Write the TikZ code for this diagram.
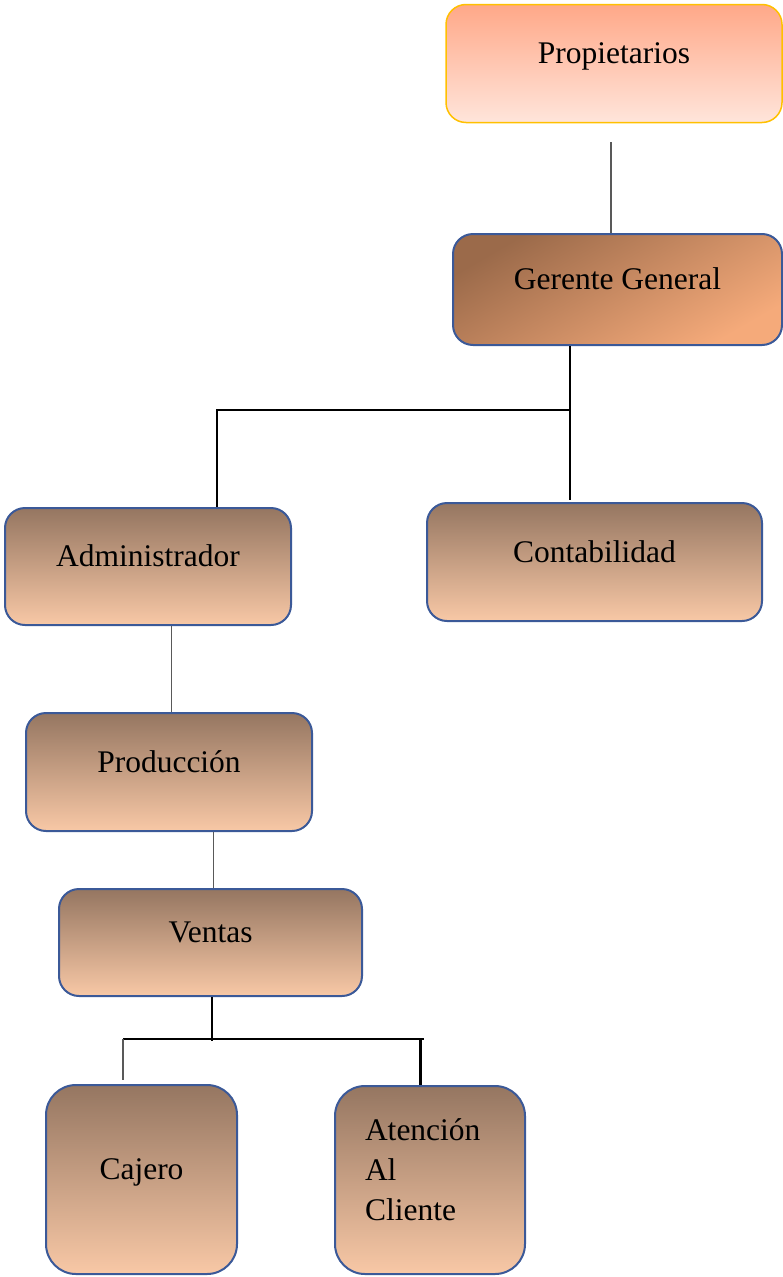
\documentclass[tikz,border=0pt]{standalone}
\usepackage{fontspec}
\setmainfont{Liberation Serif}
\usepackage{tikz}

\definecolor{boxtop}{RGB}{149,118,97}
\definecolor{boxbot}{RGB}{248,200,166}
\definecolor{boxline}{RGB}{59,89,152}
\definecolor{proptop}{RGB}{255,168,136}
\definecolor{propbot}{RGB}{255,229,219}
\definecolor{propline}{RGB}{255,192,0}
\definecolor{gertop}{RGB}{155,106,74}
\definecolor{gerbot}{RGB}{245,170,122}

\begin{document}
\begin{tikzpicture}[x=1pt, y=-1pt,
  box/.style={draw=boxline, line width=2pt, rounded corners=20pt,
    top color=boxtop, bottom color=boxbot, inner sep=0pt,
    text height=20pt, text depth=20pt,
    font=\fontsize{31.5}{40}\selectfont},
  conn/.style={line width=2pt},
  thinconn/.style={black!65, line width=1pt}]
  \useasboundingbox (0,0) rectangle (783,1277);
  %% owners and general manager
  \node[box, draw=propline, line width=1.5pt, top color=proptop,
    bottom color=propbot, minimum width=336, minimum height=118]
    (prop) at (614,63.5) {Propietarios};
  \node[box, top color=gertop, bottom color=gerbot, shading angle=30,
    minimum width=329, minimum height=111]
    (gerente) at (617.5,289.5) {Gerente General};
  \draw[thinconn, line width=1.5pt] ([xshift=-3pt, yshift=-19pt]prop.south)
    -- ([xshift=-3pt]prop.south |- gerente.north);
  %% second level
  \node[box, minimum width=286, minimum height=117]
    (admin) at (148,566.5) {Administrador};
  \node[box, minimum width=335, minimum height=118]
    (conta) at (594.5,562) {Contabilidad};
  \coordinate (gg-split) at (570,410);
  \draw[conn] ([xshift=-47.5pt]gerente.south)
    -- ([xshift=-47.5pt, yshift=2pt]gerente.south |- conta.north);
  \draw[conn] (gg-split) -| ([xshift=69pt]admin.north);
  %% chain under the administrator
  \node[box, minimum width=286, minimum height=118]
    (prod) at (169,772) {Producción};
  \node[box, minimum width=303, minimum height=107]
    (ventas) at (210.5,942.5) {Ventas};
  \draw[thinconn] ([xshift=23pt]admin.south)
    -- ([xshift=23pt]admin.south |- prod.north);
  \draw[thinconn] ([xshift=44pt]prod.south)
    -- ([xshift=44pt]prod.south |- ventas.north);
  %% sales staff
  \node[box, rounded corners=30pt, minimum width=191, minimum height=189]
    (cajero) at (141.5,1179.5) {Cajero};
  \node[box, rounded corners=30pt, minimum width=190, minimum height=188,
    text width=130pt, align=left, text depth=100pt]
    (atencion) at (430,1180) {Atención\\Al\\Cliente};
  \coordinate (v-split) at (212,1039);
  \draw[conn] ([xshift=1.5pt]ventas.south) -- ([yshift=-2pt]v-split);
  \draw[conn] ([xshift=-18.5pt]cajero.north |- v-split)
    -- ([xshift=212pt]v-split);
  \draw[thinconn, line width=2pt] ([xshift=-18.5pt]cajero.north |- v-split)
    -- ([xshift=-18.5pt, yshift=4pt]cajero.north);
  \draw[conn, line width=3pt] ([xshift=-10pt]atencion.north |- v-split)
    -- ([xshift=-10pt]atencion.north);
\end{tikzpicture}
\end{document}
